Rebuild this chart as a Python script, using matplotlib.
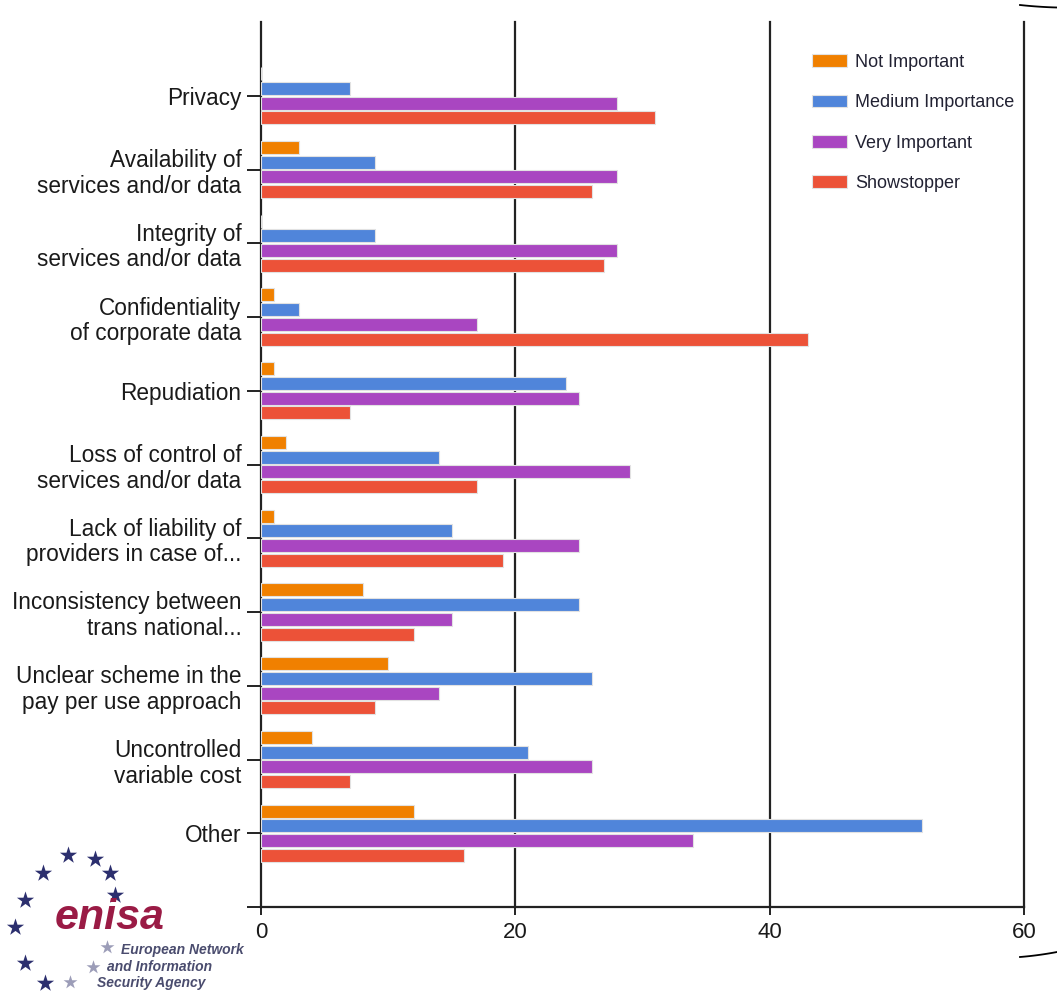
import numpy as np
import matplotlib
matplotlib.use('Agg')
import matplotlib.pyplot as plt

plt.rcParams['font.family'] = ['Liberation Sans', 'DejaVu Sans']

categories = ['Privacy', 'Availability of\nservices and/or data', 'Integrity of\nservices and/or data',
              'Confidentiality\nof corporate data', 'Repudiation', 'Loss of control of\nservices and/or data',
              'Lack of liability of\nproviders in case of...', 'Inconsistency between\ntrans national...',
              'Unclear scheme in the\npay per use approach', 'Uncontrolled\nvariable cost', 'Other']

series_names = ['Not Important', 'Medium Importance', 'Very Important', 'Showstopper']
not_important = [0, 3, 0, 1, 1, 2, 1, 8, 10, 4, 12]
medium_importance = [7, 9, 9, 3, 24, 14, 15, 25, 26, 21, 52]
very_important = [28, 28, 28, 17, 25, 29, 25, 15, 14, 26, 34]
showstopper = [31, 26, 27, 43, 7, 17, 19, 12, 9, 7, 16]
colors = ['#f08000', '#5085da', '#a946c1', '#ec5238']
x_ticks = [0, 20, 40, 60]

W, H = 1057, 994
fig = plt.figure(figsize=(W / 100, H / 100), dpi=100)
ax = fig.add_axes([261 / W, 1 - 907 / H, (1024 - 261) / W, (907 - 22) / H])

n = len(categories)
y = np.arange(n)
step = 0.2
height = 0.175
all_series = [not_important, medium_importance, very_important, showstopper]
for k, (vals, name, col) in enumerate(zip(all_series, series_names, colors)):
    offs = (k - 1.5) * step
    ax.barh(y + offs, vals, height=height, color=col, edgecolor='#e2e2e2',
            linewidth=0.8, label=name, zorder=3)

ax.set_xlim(0, 60)
ax.set_ylim(n, -1)
for xt in x_ticks[1:]:
    ax.axvline(xt, color='#222222', lw=1.6, zorder=1, clip_on=False)

ax.set_yticks(list(y) + [n])
ax.set_yticklabels(categories + [''], fontsize=16.3, color='#1a1a1a', linespacing=1.15)
ax.set_xticks(x_ticks)
ax.set_xticklabels([str(v) for v in x_ticks], fontsize=16, color='#1a1a1a')
ax.tick_params(axis='y', length=10, width=1.4, color='#222222', pad=4)
ax.tick_params(axis='x', length=6, width=1.4, color='#222222', pad=5)
for s in ['top', 'right']:
    ax.spines[s].set_visible(False)
for s in ['left', 'bottom']:
    ax.spines[s].set_color('#222222')
    ax.spines[s].set_linewidth(1.6)

leg = ax.legend(loc='upper left', bbox_to_anchor=(812 / W, 1 - 54 / H),
                bbox_transform=fig.transFigure, frameon=False, borderpad=0,
                borderaxespad=0, handlelength=1.95, handleheight=0.72,
                handletextpad=0.45, labelspacing=1.29, fontsize=13)
for t in leg.get_texts():
    t.set_color('#222233')

# logo and page bracket, drawn in pixel coordinates over the whole figure
deco = fig.add_axes([0, 0, 1, 1], zorder=5)
deco.set_xlim(0, W)
deco.set_ylim(H, 0)
deco.axis('off')
deco.patch.set_alpha(0)

dark_stars = [(68, 855), (95, 859), (43, 873), (110, 873), (25, 900), (115, 895),
              (15, 927), (25, 963), (45, 983)]
light_stars = [(70, 982), (93, 967), (107, 947)]
deco.scatter([p[0] for p in dark_stars], [p[1] for p in dark_stars], marker='*', s=170,
             color='#2c2f6e', linewidths=0)
deco.scatter([p[0] for p in light_stars], [p[1] for p in light_stars], marker='*', s=110,
             color='#9c9db8', linewidths=0)
deco.text(110, 918, 'enisa', fontsize=31, fontweight='bold', style='italic',
          color='#9a1b45', ha='center', va='center')
deco.text(182, 950, 'European Network', fontsize=10, fontweight='bold', style='italic',
          color='#4a4c6e', ha='center', va='center')
deco.text(160, 967, 'and Information', fontsize=10, fontweight='bold', style='italic',
          color='#4a4c6e', ha='center', va='center')
deco.text(151, 983, 'Security Agency', fontsize=10, fontweight='bold', style='italic',
          color='#4a4c6e', ha='center', va='center')

# bracket ends at the right edge of the page
bx = np.linspace(1020, 1057, 20)
t = (bx - 1020) / 37
deco.plot(bx, 5 + 4 * t - 1.5 * t * t, color='black', lw=1.3)
deco.plot(bx, 957 - 3 * t - 2 * t * t, color='black', lw=1.3)

fig.savefig('out.png', dpi=100)
